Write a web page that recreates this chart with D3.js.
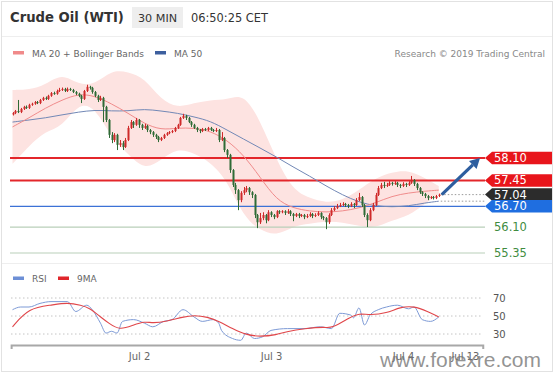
<!DOCTYPE html>
<html><head><meta charset="utf-8">
<script src="https://cdn.jsdelivr.net/npm/d3@7"></script>
<style>body{margin:0;background:#fff;}svg{display:block;}</style>
</head><body><svg id="c" width="554" height="376"></svg>
<script>
// ---------- data ----------
const title = "Crude Oil (WTI)";
const interval = "30 MIN";
const clock = "06:50:25 CET";
const credit = "Research \u00A9 2019 Trading Central";
const watermark = "www.forexre.com";
const legendMain = ["MA 20 + Bollinger Bands", "MA 50"];
const legendRsi = ["RSI", "9MA"];

// bars are counted in half-hours from Jul 1 2019 00:00 (CET); first candle = bar 2
const firstBar = 2;
// [open, high, low, close]
const candles = [
[59.36,59.43,59.33,59.40],[59.40,59.49,59.37,59.46],[59.46,59.78,59.40,59.43],[59.43,59.55,59.40,59.52],
[59.52,59.61,59.49,59.58],[59.58,59.62,59.52,59.55],[59.55,59.67,59.52,59.64],[59.64,59.70,59.61,59.67],
[59.67,59.75,59.64,59.72],[59.72,59.75,59.66,59.69],[59.69,59.81,59.66,59.78],[59.78,59.87,59.75,59.84],
[59.84,59.88,59.78,59.81],[59.81,59.93,59.78,59.90],[59.90,60.01,59.87,59.98],[59.98,60.02,59.93,59.96],
[59.96,60.08,59.93,60.04],[60.04,60.13,60.01,60.07],[60.07,60.14,60.04,60.10],[60.10,60.13,60.01,60.04],
[60.04,60.14,60.01,60.10],[60.10,60.13,60.04,60.07],[60.07,60.10,59.98,60.01],[60.01,60.04,59.92,59.96],
[59.96,59.99,59.86,59.90],[59.90,59.93,59.69,59.81],[59.81,60.07,59.78,60.04],[60.04,60.22,60.01,60.16],
[60.16,60.19,60.08,60.13],[60.13,60.16,59.96,60.01],[60.01,60.04,59.86,59.90],[59.90,59.93,59.72,59.78],
[59.78,59.90,59.75,59.84],[59.84,59.87,59.14,59.58],[59.58,59.61,59.14,59.20],[59.20,59.23,58.68,58.77],
[58.77,58.85,58.53,58.62],[58.62,58.82,58.56,58.77],[58.77,58.80,58.33,58.48],[58.48,58.62,58.42,58.53],
[58.53,58.59,58.33,58.42],[58.42,58.68,58.39,58.62],[58.62,59.03,58.59,58.97],[58.97,59.20,58.94,59.14],
[59.14,59.17,58.97,59.06],[59.06,59.26,59.03,59.20],[59.20,59.23,58.97,59.06],[59.06,59.09,58.91,58.97],
[58.97,59.09,58.94,59.03],[59.03,59.06,58.85,58.91],[58.91,58.94,58.79,58.85],[58.85,58.88,58.71,58.77],
[58.77,58.80,58.65,58.71],[58.71,58.74,58.56,58.62],[58.62,58.71,58.59,58.68],[58.68,58.80,58.65,58.77],
[58.77,58.85,58.74,58.82],[58.82,58.88,58.79,58.85],[58.85,58.91,58.82,58.88],[58.88,59.00,58.85,58.97],
[58.97,59.09,58.94,59.06],[59.06,59.29,59.03,59.26],[59.26,59.38,59.23,59.32],[59.32,59.35,59.20,59.26],
[59.26,59.29,59.11,59.14],[59.14,59.17,59.00,59.06],[59.06,59.09,58.94,58.97],[58.97,59.00,58.85,58.91],
[58.91,58.94,58.82,58.88],[58.88,58.97,58.85,58.94],[58.94,58.97,58.88,58.91],[58.91,59.00,58.88,58.97],
[58.97,59.00,58.88,58.91],[58.91,58.94,58.85,58.88],[58.88,58.97,58.85,58.91],[58.91,58.94,58.56,58.62],
[58.62,58.85,58.59,58.68],[58.68,58.71,58.27,58.33],[58.33,58.36,58.10,58.19],[58.19,58.22,57.67,57.75],
[57.75,57.78,57.26,57.32],[57.32,57.38,57.06,57.17],[57.17,57.20,56.59,56.88],[56.88,57.14,56.82,57.09],
[57.09,57.26,57.03,57.17],[57.17,57.29,57.11,57.23],[57.23,57.26,57.03,57.11],[57.11,57.14,56.94,57.03],
[57.03,57.06,56.36,56.45],[56.45,56.48,56.07,56.24],[56.24,56.51,56.19,56.36],[56.36,56.53,56.30,56.45],
[56.45,56.48,56.21,56.30],[56.30,56.59,56.27,56.53],[56.53,56.56,56.39,56.45],[56.45,56.48,56.33,56.39],
[56.39,56.59,56.36,56.56],[56.56,56.59,56.48,56.53],[56.53,56.59,56.50,56.56],[56.56,56.59,56.45,56.51],
[56.51,56.62,56.48,56.56],[56.56,56.59,56.42,56.48],[56.48,56.51,56.27,56.42],[56.42,56.51,56.39,56.48],
[56.48,56.51,56.36,56.42],[56.42,56.48,56.39,56.45],[56.45,56.48,56.33,56.39],[56.39,56.48,56.36,56.42],
[56.42,56.53,56.39,56.48],[56.48,56.51,56.36,56.42],[56.42,56.50,56.39,56.45],[56.45,56.56,56.42,56.51],
[56.51,56.53,56.33,56.39],[56.39,56.42,56.30,56.36],[56.36,56.39,56.04,56.24],[56.24,56.50,56.19,56.45],
[56.45,56.65,56.42,56.59],[56.59,56.71,56.56,56.65],[56.65,56.77,56.62,56.71],[56.71,56.80,56.68,56.74],
[56.74,56.82,56.71,56.77],[56.77,56.80,56.68,56.74],[56.74,56.77,56.65,56.71],[56.71,56.82,56.68,56.77],
[56.77,56.80,56.65,56.74],[56.74,56.94,56.71,56.88],[56.88,57.09,56.85,56.97],[56.97,57.00,56.68,56.74],
[56.74,56.77,56.39,56.45],[56.45,56.50,56.10,56.30],[56.30,56.65,56.27,56.59],[56.59,56.80,56.56,56.74],
[56.74,57.09,56.71,57.03],[57.03,57.29,57.00,57.23],[57.23,57.38,57.20,57.32],[57.32,57.41,57.23,57.29],
[57.29,57.38,57.26,57.32],[57.32,57.43,57.29,57.38],[57.38,57.41,57.30,57.35],[57.35,57.43,57.32,57.38],
[57.38,57.41,57.26,57.32],[57.32,57.35,57.23,57.29],[57.29,57.40,57.26,57.35],[57.35,57.38,57.26,57.32],
[57.32,57.43,57.29,57.38],[57.38,57.58,57.35,57.46],[57.46,57.49,57.29,57.35],[57.35,57.38,57.17,57.23],
[57.23,57.26,57.06,57.11],[57.11,57.14,57.00,57.06],[57.06,57.09,56.94,57.00],[57.00,57.03,56.88,56.94],
[56.94,57.00,56.91,56.97],[56.97,57.00,56.90,56.94],[56.94,57.03,56.91,57.00],[57.00,57.07,56.97,57.04]
];

// moving averages / Bollinger bands read at these bars
const maBars  = [2,8,14,20,26,32,38,44,50,56,62,68,74,80,86,92,98,104,110,116,122,128,134,140,146,152,157];
const ma20    = [59.00,59.26,59.55,59.78,59.96,59.90,59.67,59.40,59.09,58.91,58.97,58.97,58.88,58.62,58.19,57.55,56.88,56.65,56.56,56.53,56.56,56.65,56.80,57.00,57.09,57.14,57.17];
const ma50    = [59.14,59.20,59.26,59.35,59.43,59.49,59.46,59.46,59.52,59.46,59.40,59.29,59.17,58.91,58.65,58.39,58.13,57.84,57.58,57.29,57.03,56.82,56.71,56.68,56.71,56.80,56.85];
const bbUpper = [60.07,60.07,60.22,60.56,60.22,60.22,60.65,60.59,60.42,59.78,59.55,59.69,59.78,59.78,59.98,59.20,58.04,57.17,56.94,56.80,56.88,57.17,57.52,57.69,57.75,57.52,57.29];
const bbLower = [57.93,58.45,58.88,59.00,59.69,59.58,58.68,58.22,57.75,58.04,58.39,58.24,57.98,57.46,56.39,56.01,55.84,56.13,56.19,56.27,56.24,56.13,56.07,56.30,56.42,56.77,57.06];

// key levels
const levels      = [58.10, 57.45, 56.70, 56.10, 55.35];
const levelKinds  = ["resistance","resistance","pivot","support","support"];
const lastPrice   = 57.04;
const targetPrice = 58.10;
const targetBar   = 172;

// RSI panel
const rsiBars = [2,5,8,12,16,22,25,29,31,34,36,38,40,42,46,50,53,57,60,64,68,71,75,77,78,82,85,87,90,93,96,102,108,114,118,121,125,126,128,130,132,135,138,142,146,148,151,154,157];
const rsiVals = [57,60,60,64,66,66,55,62,57,42,31,33,31,44,46,42,38,44,46,57,49,44,46,42,34,25,23,31,25,27,34,36,36,38,36,53,51,48,59,40,51,57,60,62,58,60,46,44,49];
const ma9Bars = [2,8,16,22,27,30,34,37,41,46,50,53,58,64,68,73,77,82,87,92,98,102,108,116,118,125,128,132,138,143,148,153,157];
const ma9Vals = [38,59,62,65,62,59,49,42,34,40,44,42,44,49,51,49,44,36,29,27,29,33,36,38,36,49,53,51,53,60,61,55,49];
const rsiTicks = [70, 50, 30];

const dateTicks  = [new Date(2019,6,2,0,0), new Date(2019,6,3,0,0), new Date(2019,6,4,0,0), new Date(2019,6,4,11,15)];
const dateLabels = ["Jul 2", "Jul 3", "Jul 4", "Jul 13"];
const axisStart = new Date(2019,6,1,0,45), axisEnd = new Date(2019,6,4,14,30);

// ---------- drawing ----------
const svg = d3.select("#c");
const FONT = "DejaVu Sans, Verdana, sans-serif";
const t0 = new Date(2019,6,1,0,0).getTime();
const barTime = n => new Date(t0 + n*30*60*1000);

const x = d3.scaleTime().domain([new Date(2019,6,2), new Date(2019,6,4)]).range([139, 403]);
const y = d3.scaleLinear().domain([55.35, 58.10]).range([253, 158]);
const yr = d3.scaleLinear().domain([30, 70]).range([334, 298]);
const fmt = d3.format(".2f");

// frame
svg.append("rect").attr("x",1.5).attr("y",1.5).attr("width",551).attr("height",370)
  .attr("fill","#fff").attr("stroke","#e2e2e2");
svg.append("line").attr("x1",2).attr("x2",552).attr("y1",36.5).attr("y2",36.5).attr("stroke","#eeeeee");
svg.append("line").attr("x1",2).attr("x2",552).attr("y1",263.5).attr("y2",263.5).attr("stroke","#eeeeee");

// header
svg.append("text").attr("x",10).attr("y",22).attr("font-family",FONT).attr("font-weight","bold")
  .attr("font-size",13.2).attr("fill","#333").text(title);
svg.append("rect").attr("x",132).attr("y",7).attr("width",51).attr("height",21).attr("fill","#eeeeee");
svg.append("text").attr("x",157.5).attr("y",22).attr("text-anchor","middle").attr("font-family",FONT)
  .attr("font-size",11.2).attr("fill","#333").text(interval);
svg.append("text").attr("x",191).attr("y",22).attr("font-family",FONT)
  .attr("font-size",11.4).attr("fill","#333").text(clock);

// legend
const legColors = ["#f08a8a", "#3d5f9e"];
const legX = [13, 155];
legendMain.forEach((t,i)=>{
  svg.append("rect").attr("x",legX[i]).attr("y",51).attr("width",11).attr("height",3.5).attr("fill",legColors[i]);
  svg.append("text").attr("x",legX[i]+19).attr("y",57).attr("font-family",FONT).attr("font-size",9)
    .attr("fill","#666").text(t);
});
svg.append("text").attr("x",545).attr("y",57).attr("text-anchor","end").attr("font-family",FONT)
  .attr("font-size",9).attr("fill","#888").text(credit);

// bollinger band
const maPts = maBars.map((b,i)=>({t:barTime(b), u:bbUpper[i], l:bbLower[i], m20:ma20[i], m50:ma50[i]}));
svg.append("path").datum(maPts)
  .attr("d", d3.area().curve(d3.curveBasis).x(d=>x(d.t)).y0(d=>y(d.l)).y1(d=>y(d.u)))
  .attr("fill","#fde3e1");

// level lines
const lvlStyle = {
  resistance:{line:"#e3262b", w:2, box:"#e8151b"},
  pivot:{line:"#3c72d6", w:1.2, box:"#1f6ee0"},
  support:{line:"#b9cfb9", w:1.2, box:null, text:"#3f8c3f"}
};
levels.forEach((v,i)=>{
  const s = lvlStyle[levelKinds[i]];
  svg.append("line").attr("x1",10).attr("x2",485).attr("y1",y(v)).attr("y2",y(v))
    .attr("stroke",s.line).attr("stroke-width",s.w);
});

// moving averages
svg.append("path").datum(maPts)
  .attr("d", d3.line().curve(d3.curveBasis).x(d=>x(d.t)).y(d=>y(d.m50)))
  .attr("fill","none").attr("stroke","#7288b6").attr("stroke-width",1);
svg.append("path").datum(maPts)
  .attr("d", d3.line().curve(d3.curveBasis).x(d=>x(d.t)).y(d=>y(d.m20)))
  .attr("fill","none").attr("stroke","#f08c8c").attr("stroke-width",1);

// candles
const cg = svg.append("g");
candles.forEach((c,k)=>{
  const cx = Math.round(x(barTime(firstBar+k)));
  const up = c[3] >= c[0];
  const col = up ? "#cf2a2a" : "#2f6b36";
  cg.append("line").attr("x1",cx+0.5).attr("x2",cx+0.5).attr("y1",y(c[1])).attr("y2",y(c[2]))
    .attr("stroke",col).attr("stroke-width",1);
  const top = y(Math.max(c[0],c[3])), bot = y(Math.min(c[0],c[3]));
  cg.append("rect").attr("x",cx-0.5).attr("y",top).attr("width",2).attr("height",Math.max(1,bot-top)).attr("fill",col);
});

// dotted extensions
const lastT = barTime(firstBar + candles.length - 1);
[lastPrice, ma50[ma50.length-1]].forEach(v=>{
  svg.append("line").attr("x1",x(lastT)+2).attr("x2",485).attr("y1",y(v)).attr("y2",y(v))
    .attr("stroke","#999").attr("stroke-dasharray","1.5,2");
});

// forecast arrow
const ax0 = x(lastT)+3, ay0 = y(lastPrice), ax1 = x(barTime(targetBar)), ay1 = y(targetPrice);
const ang = Math.atan2(ay1-ay0, ax1-ax0);
const hl = 10, hw = 5.5;
const bx = ax1 - hl*Math.cos(ang), by = ay1 - hl*Math.sin(ang);
svg.append("line").attr("x1",ax0).attr("y1",ay0).attr("x2",bx).attr("y2",by)
  .attr("stroke","#2d5e9f").attr("stroke-width",3.2);
svg.append("path").attr("d",`M${ax1},${ay1}L${bx+hw*Math.sin(ang)},${by-hw*Math.cos(ang)}L${bx-hw*Math.sin(ang)},${by+hw*Math.cos(ang)}Z`)
  .attr("fill","#2d5e9f");

// price labels
function tag(v, color){
  const cy = y(v), h = 12.5;
  svg.append("path").attr("d",`M485,${cy}L492,${cy-h/2}L552,${cy-h/2}L552,${cy+h/2}L492,${cy+h/2}Z`).attr("fill",color);
  svg.append("text").attr("x",494).attr("y",cy+4).attr("font-family",FONT).attr("font-size",11.5)
    .attr("fill","#fff").text(fmt(v));
}
levels.forEach((v,i)=>{
  if (levelKinds[i]==="resistance") tag(v, lvlStyle.resistance.box);
});
tag(lastPrice, "#2c2c2c");
levels.forEach((v,i)=>{
  const s = lvlStyle[levelKinds[i]];
  if (levelKinds[i]==="pivot") tag(v, s.box);
  if (!s.box) svg.append("text").attr("x",494).attr("y",y(v)+4).attr("font-family",FONT)
      .attr("font-size",11.5).attr("fill",s.text).text(fmt(v));
});

// RSI legend
const rsiCol = ["#6d8fd6", "#e0262b"];
const rlX = [13, 58];
legendRsi.forEach((t,i)=>{
  svg.append("rect").attr("x",rlX[i]).attr("y",276.5).attr("width",11).attr("height",3.5).attr("fill",rsiCol[i]);
  svg.append("text").attr("x",rlX[i]+19).attr("y",282).attr("font-family",FONT).attr("font-size",9)
    .attr("fill","#666").text(t);
});

// RSI grid
rsiTicks.forEach(v=>{
  svg.append("line").attr("x1",11).attr("x2",483).attr("y1",yr(v)).attr("y2",yr(v))
    .attr("stroke","#c4c4c4").attr("stroke-dasharray","1.5,2.5");
  svg.append("text").attr("x",493).attr("y",yr(v)+3.5).attr("font-family",FONT).attr("font-size",10)
    .attr("fill","#555").text(v);
});

// RSI lines
svg.append("path").datum(rsiBars.map((b,i)=>[barTime(b), rsiVals[i]]))
  .attr("d", d3.line().curve(d3.curveMonotoneX).x(d=>x(d[0])).y(d=>yr(d[1])))
  .attr("fill","none").attr("stroke","#7d9ad6").attr("stroke-width",1);
svg.append("path").datum(ma9Bars.map((b,i)=>[barTime(b), ma9Vals[i]]))
  .attr("d", d3.line().curve(d3.curveBasis).x(d=>x(d[0])).y(d=>yr(d[1])))
  .attr("fill","none").attr("stroke","#e0464a").attr("stroke-width",1.1);

// time axis
const xa = x.copy().domain([axisStart, axisEnd]).range([x(axisStart), x(axisEnd)]);
const axis = svg.append("g").attr("transform","translate(0,345)")
  .call(d3.axisBottom(xa).tickValues(dateTicks).tickFormat((d,i)=>dateLabels[i])
    .tickSizeInner(0).tickSizeOuter(4).tickPadding(8));
axis.select(".domain").attr("stroke","#a8a8a8").attr("stroke-width",2);
axis.selectAll("text").attr("font-family",FONT).attr("font-size",10).attr("fill","#666");

// watermark
svg.append("text").attr("x",380).attr("y",367).attr("font-family","Liberation Sans, Arial, sans-serif")
  .attr("font-size",21).attr("fill","#777").attr("fill-opacity",0.8).text(watermark);
</script></body></html>
